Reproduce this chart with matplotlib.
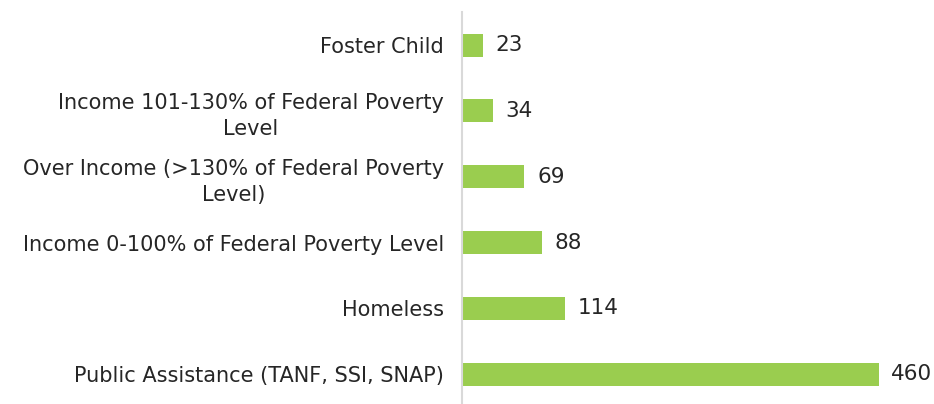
import matplotlib.pyplot as plt

categories = [
    "Public Assistance (TANF, SSI, SNAP)",
    "Homeless",
    "Income 0-100% of Federal Poverty Level",
    "Over Income (>130% of Federal Poverty\nLevel)",
    "Income 101-130% of Federal Poverty\nLevel",
    "Foster Child",
]
values = [460, 114, 88, 69, 34, 23]

fig = plt.figure(figsize=(9.34, 4.04), dpi=100)
ax = fig.add_axes([0.4946, -0.008, 0.5054, 0.978])

y = range(len(categories))
ax.barh(y, values, height=0.35, color="#9acd4f")
for i, v in zip(y, values):
    ax.text(v + 14, i, str(v), va="center", ha="left", fontsize=15.5, color="#262626")

ax.set_yticks(list(y))
ax.set_yticklabels(categories, fontsize=15, color="#262626",
                   linespacing=1.4, multialignment="center")
ax.tick_params(axis="y", length=0, pad=13)
ax.set_xticks([])
ax.set_xlim(0, 521)
ax.set_ylim(-0.5, 5.5)
for s in ["top", "right", "bottom"]:
    ax.spines[s].set_visible(False)
ax.spines["left"].set_color("#d9d9d9")
ax.spines["left"].set_linewidth(1.5)

fig.savefig("out.png", dpi=100)
